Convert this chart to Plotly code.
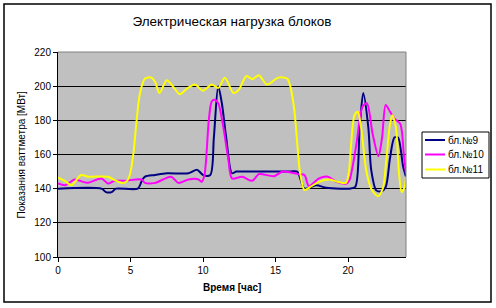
import plotly.graph_objects as go

# Block №9
hours9 = [0, 3.0, 3.3, 3.7, 4.0, 5.5, 5.8, 6.0, 6.7, 7.5, 9.0, 9.6, 10.0, 10.5, 10.75, 11.05, 11.3, 11.6, 12.0, 12.3,
          13, 14, 15, 16, 16.5, 17.0, 17.8, 18.5, 19.5, 20.1, 20.5, 20.8, 21.05, 21.4, 21.6, 21.95, 22.3, 22.6, 22.9,
          23.2, 23.45, 23.8, 24]
vals9 = [140, 140, 138, 138, 140, 140, 145, 147, 148, 149, 149, 151, 148, 148, 170, 200, 190, 170, 149, 150,
         150, 150, 150, 150, 150, 140, 142, 140.5, 140, 140, 141, 175, 196, 176, 151, 139, 138.5, 141, 158,
         170, 170, 153, 147]

# Block №10
hours10 = [0, 0.5, 1.15, 2.0, 3.0, 3.45, 3.9, 4.6, 5.76, 6.0, 6.7, 7.8, 8.3, 9.0, 9.7, 9.9, 10.1, 10.4, 10.6, 10.8,
           11.05, 11.4, 11.75, 12.0, 12.7, 13.4, 13.85, 14.9, 15.5, 16.6, 17.0, 17.3, 18.0, 18.6, 19.2, 19.9, 20.1,
           20.55, 21.0, 21.3, 21.7, 22.1, 22.35, 22.6, 22.9, 23.2, 23.6, 23.85, 24]
vals10 = [143, 142, 145.4, 143.4, 146, 143, 144.6, 144.6, 145.4, 143.4, 143.4, 147, 143.4, 145.4, 145.4, 144, 148, 180, 191, 192,
          190, 176, 157, 146, 147, 144.6, 148.5, 147.3, 150, 148.5, 148, 141.5, 146, 147, 144, 143, 145,
          164.5, 188, 190, 172, 159, 170, 189, 185, 181, 178, 160, 149]

# Block №11
hours11 = [0, 0.46, 0.92, 1.6, 2.07, 3.45, 3.9, 4.4, 4.7, 4.95, 5.2, 5.4, 5.65, 6.0, 6.45, 6.7, 7.0, 7.5, 7.95, 8.4,
           8.9, 9.45, 10.0, 10.6, 11.06, 11.5, 12.1, 12.45, 13.0, 13.4, 13.85, 14.4, 15.2, 15.8, 16.0, 16.3, 16.5,
           16.7, 17.0, 17.4, 18.0, 18.7, 19.3, 19.85, 20.05, 20.2, 20.45, 20.67, 20.9, 21.25, 21.6, 22.06, 22.4,
           22.64, 22.87, 23.05, 23.3, 23.5, 23.7, 23.9, 24]
vals11 = [146.5, 144.6, 142, 148, 147, 147, 145, 143.4, 144, 148, 160.6, 178, 195.7, 204.5, 205, 202.5, 196, 203.5, 199.6, 195.3,
          198.6, 201, 197.3, 201, 199, 205, 196, 197.7, 206, 204, 206.4, 201, 205, 204.5, 200.6, 186, 166.4,
          149, 139.2, 141, 144, 145.4, 144, 143.4, 149, 164.5, 183, 185, 176, 151, 140, 135.6, 140,
          156.7, 176, 183, 176, 151, 138, 141, 147]

series_names = ["бл.№9", "бл.№10", "бл.№11"]
series_colors = ["#000080", "#FF00FF", "#FFFF00"]

x_ticks = [0, 5, 10, 15, 20]
y_ticks = [100, 120, 140, 160, 180, 200, 220]

FONT = "Liberation Sans, Arial, sans-serif"

fig = go.Figure()
for hx, vy, nm, col in zip([hours9, hours10, hours11], [vals9, vals10, vals11], series_names, series_colors):
    fig.add_trace(go.Scatter(x=hx, y=vy, mode="lines", name=nm, showlegend=False,
                             line=dict(color=col, width=2, shape="spline", smoothing=0.8)))

# plot area pixel geometry: x 58..406, y 52..257 in a 496x308 figure
L, R, T, B = 58, 406, 52, 257
W, H = 496, 308
pw, ph = R - L, B - T

def px2paper_x(p):
    return (p - L) / pw

def px2paper_y(p):
    return (B - p) / ph

shapes = [
    dict(type="line", xref="paper", yref="paper", x0=0, x1=1, y0=1, y1=1,
         line=dict(color="#808080", width=1)),
    dict(type="line", xref="paper", yref="paper", x0=1, x1=1, y0=0, y1=1,
         line=dict(color="#808080", width=1)),
    dict(type="rect", xref="paper", yref="paper",
         x0=px2paper_x(4), x1=px2paper_x(491), y0=px2paper_y(302), y1=px2paper_y(4),
         line=dict(color="black", width=1.5), fillcolor="rgba(0,0,0,0)"),
    # legend box
    dict(type="rect", xref="paper", yref="paper",
         x0=px2paper_x(422), x1=px2paper_x(489), y0=px2paper_y(178), y1=px2paper_y(132),
         line=dict(color="black", width=1), fillcolor="white"),
]
annotations = [
    dict(text="<b>Время [час]</b>", xref="paper", yref="paper",
         x=0.5, y=px2paper_y(287), xanchor="center", yanchor="middle", showarrow=False,
         font=dict(family=FONT, size=10, color="black")),
    dict(text="Показания ваттметра [МВт]", xref="paper", yref="paper",
         x=px2paper_x(21), y=0.5, xanchor="center", yanchor="middle", showarrow=False,
         textangle=-90, font=dict(family=FONT, size=10, color="black")),
]
legend_rows = [140, 154.5, 169.5]
for nm, col, ry in zip(series_names, series_colors, legend_rows):
    shapes.append(dict(type="line", xref="paper", yref="paper",
                       x0=px2paper_x(425), x1=px2paper_x(445), y0=px2paper_y(ry), y1=px2paper_y(ry),
                       line=dict(color=col, width=2)))
    annotations.append(dict(text=nm, xref="paper", yref="paper",
                            x=px2paper_x(446), y=px2paper_y(ry), xanchor="left", yanchor="middle",
                            showarrow=False, font=dict(family=FONT, size=10, color="black")))

fig.update_layout(
    width=W, height=H,
    margin=dict(l=L, r=W - R, t=T, b=H - B, pad=0),
    paper_bgcolor="white",
    plot_bgcolor="#C0C0C0",
    font=dict(family=FONT, size=10, color="black"),
    title=dict(text="Электрическая нагрузка блоков", x=0.5, xanchor="center", xref="paper",
               y=1 - 21 / H, yanchor="middle", yref="container",
               font=dict(family=FONT, size=13.5, color="black")),
    showlegend=False,
    xaxis=dict(range=[0, 24], tickvals=x_ticks, showgrid=False, zeroline=False,
               showline=True, linecolor="black", linewidth=1,
               ticks="outside", ticklen=4, tickcolor="black",
               tickfont=dict(family=FONT, size=10, color="black")),
    yaxis=dict(range=[100, 220], tickvals=y_ticks, showgrid=True, gridcolor="black", gridwidth=1,
               zeroline=False, showline=True, linecolor="black", linewidth=1,
               ticks="outside", ticklen=4, tickcolor="black",
               tickfont=dict(family=FONT, size=10, color="black")),
    shapes=shapes,
    annotations=annotations,
)

fig.write_html("out.html")
